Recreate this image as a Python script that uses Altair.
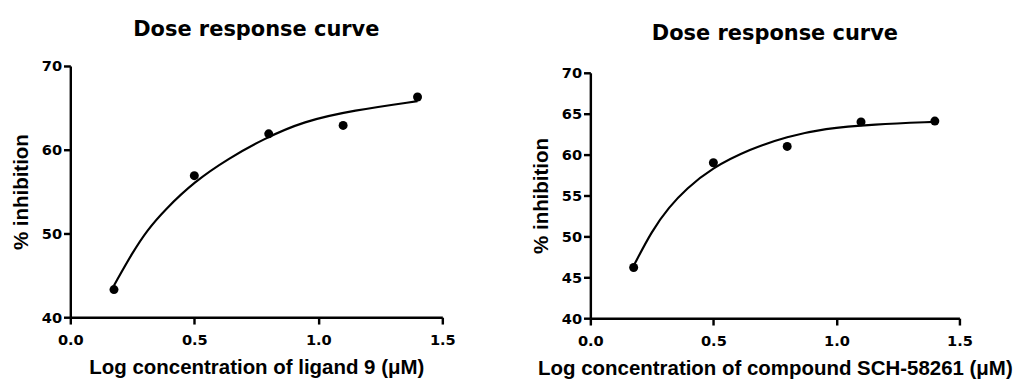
import altair as alt
import pandas as pd

# Measured data (log concentration, % inhibition)
log_conc = [0.176, 0.5, 0.8, 1.1, 1.4]
ligand9_inhib = [43.3, 56.9, 61.9, 62.9, 66.3]
sch_inhib = [46.2, 59.0, 61.0, 64.0, 64.1]

# Fitted curves
ligand9_curve_x = [0.176, 0.25, 0.31, 0.38, 0.5, 0.64, 0.78, 0.94, 1.14, 1.4]
ligand9_curve_y = [43.8, 47.7, 50.4, 52.8, 56.2, 59.0, 61.3, 63.4, 64.7, 65.8]
sch_curve_x = [0.176, 0.25, 0.32, 0.39, 0.49, 0.65, 0.8, 0.95, 1.15, 1.4]
sch_curve_y = [46.4, 50.7, 53.6, 55.8, 58.3, 60.7, 62.2, 63.2, 63.7, 64.0]

x_ticks = [0.0, 0.5, 1.0, 1.5]
left_y_ticks = [40, 50, 60, 70]
right_y_ticks = [40, 45, 50, 55, 60, 65, 70]

title_text = "Dose response curve"
y_title = "% inhibition"
left_x_title = "Log concentration of ligand 9 (\u03bcM)"
right_x_title = "Log concentration of compound SCH-58261 (\u03bcM)"


def panel(px, py, cx, cy, xtitle, yticks, width, height, top, title_offset):
    pts = pd.DataFrame({"x": px, "y": py})
    crv = pd.DataFrame({"x": cx, "y": cy})
    xs = alt.Scale(domain=[0, 1.5], nice=False, zero=False)
    ys = alt.Scale(domain=[40, 70], nice=False, zero=False, range=[height, top])
    xax = alt.Axis(values=x_ticks, format=".1f", title=xtitle)
    yax = alt.Axis(values=yticks, format="d", title=y_title)
    line = alt.Chart(crv).mark_line(color="black", strokeWidth=2.2,
                                    interpolate="basis").encode(
        x=alt.X("x:Q", scale=xs, axis=xax),
        y=alt.Y("y:Q", scale=ys, axis=yax),
    )
    dots = alt.Chart(pts).mark_point(filled=True, color="black", size=85,
                                     opacity=1, shape="circle").encode(
        x=alt.X("x:Q", scale=xs, axis=xax),
        y=alt.Y("y:Q", scale=ys, axis=yax),
    )
    return alt.layer(line, dots).properties(
        width=width, height=height,
        title=alt.TitleParams(text=title_text, offset=title_offset),
    )


left = panel(log_conc, ligand9_inhib, ligand9_curve_x, ligand9_curve_y,
             left_x_title, left_y_ticks, 382, 258, 0, 19.5)
right = panel(log_conc, sch_inhib, sch_curve_x, sch_curve_y,
              right_x_title, right_y_ticks, 379, 259, 7, 22)

chart = alt.hconcat(left, right, spacing=77).properties(
    padding={"left": 3, "top": 6.5, "right": 0, "bottom": 0}
).configure_view(stroke=None).configure_axis(
    grid=False,
    domainColor="black", domainWidth=2.5,
    tickColor="black", tickWidth=2.5, tickSize=7,
    labelColor="black", labelFont="DejaVu Sans", labelFontWeight="bold",
    labelFontSize=15, labelFlush=False, labelOverlap=False,
    titleColor="black", titleFont="Liberation Sans", titleFontWeight="bold",
    titleFontSize=21,
).configure_axisX(labelPadding=9, titlePadding=10).configure_axisY(
    labelPadding=2, titlePadding=10
).configure_title(
    font="DejaVu Sans", fontSize=21.5, fontWeight="bold", color="black",
    anchor="middle"
)

chart.save("out.html", embed_options={"renderer": "svg", "actions": False})
